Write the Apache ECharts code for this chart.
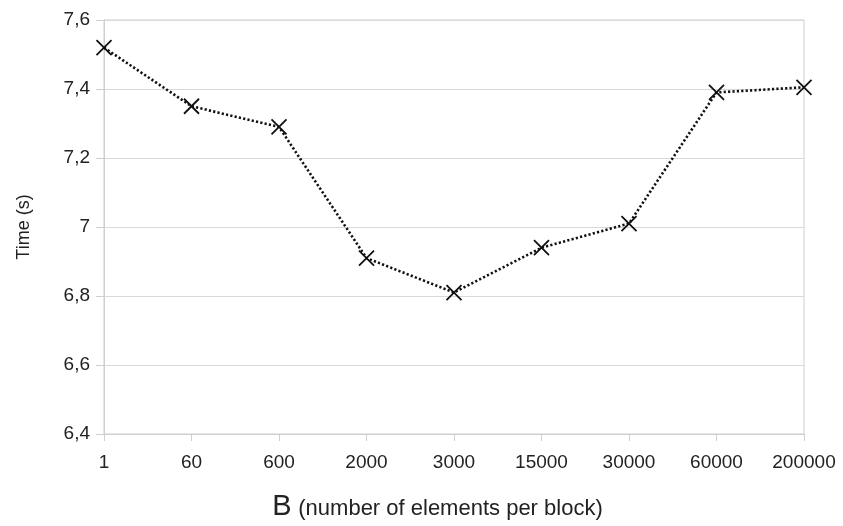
<!DOCTYPE html>
<html>
<head>
<meta charset="utf-8">
<script src="https://cdn.jsdelivr.net/npm/echarts@6/dist/echarts.min.js"></script>
<style>html,body{margin:0;padding:0;background:#fff;}#c{width:843px;height:526px;}</style>
</head>
<body>
<div id="c"></div>
<script>
var categories = ['1', '60', '600', '2000', '3000', '15000', '30000', '60000', '200000'];
var timeValues = [7.52, 7.35, 7.29, 6.91, 6.81, 6.94, 7.01, 7.39, 7.405];
var yTicks = { min: 6.4, max: 7.6, interval: 0.2 };

var chart = echarts.init(document.getElementById('c'));
chart.setOption({
  animation: false,
  backgroundColor: '#fff',
  grid: { left: 104, right: 39, top: 20, bottom: 90, show: true, borderColor: '#cfcfcf', borderWidth: 1 },
  xAxis: {
    type: 'category',
    data: categories,
    boundaryGap: false,
    axisLine: { lineStyle: { color: '#cfcfcf', width: 1 } },
    axisTick: { show: true, alignWithLabel: true, length: 7, lineStyle: { color: '#cfcfcf' } },
    axisLabel: { color: '#222', fontSize: 19, fontFamily: 'Liberation Sans, Arial', margin: 19 },
    splitLine: { show: false },
    name: '{b|B}  {s|(number of elements per block)}',
    nameLocation: 'middle',
    nameGap: 58,
    nameTextStyle: {
      padding: [0, 33, 0, 0],
      rich: {
        b: { fontSize: 29, color: '#222', fontFamily: 'Liberation Sans, Arial' },
        s: { fontSize: 22, color: '#222', fontFamily: 'Liberation Sans, Arial', padding: [5, 0, 0, 0] }
      }
    }
  },
  yAxis: {
    type: 'value',
    min: yTicks.min,
    max: yTicks.max,
    interval: yTicks.interval,
    axisLine: { show: true, lineStyle: { color: '#cfcfcf', width: 1 } },
    axisTick: { show: true, length: 8, lineStyle: { color: '#cfcfcf' } },
    axisLabel: {
      color: '#222', fontSize: 19, fontFamily: 'Liberation Sans, Arial', margin: 14,
      formatter: function (v) { return String(Math.round(v * 10) / 10).replace('.', ','); }
    },
    splitLine: { show: true, lineStyle: { color: '#d9d9d9', width: 1 } },
    name: 'Time (s)',
    nameLocation: 'middle',
    nameGap: 71,
    nameTextStyle: { color: '#222', fontSize: 18, fontFamily: 'Liberation Sans, Arial' }
  },
  series: [{
    type: 'line',
    data: timeValues,
    symbol: 'path://M0,0L10,10M10,0L0,10',
    symbolSize: 15,
    showAllSymbol: true,
    itemStyle: { color: 'none', borderColor: '#111', borderWidth: 1.8 },
    lineStyle: { color: '#111', width: 2.6, type: [2.2, 2.2] }
  }]
});
</script>
</body>
</html>
